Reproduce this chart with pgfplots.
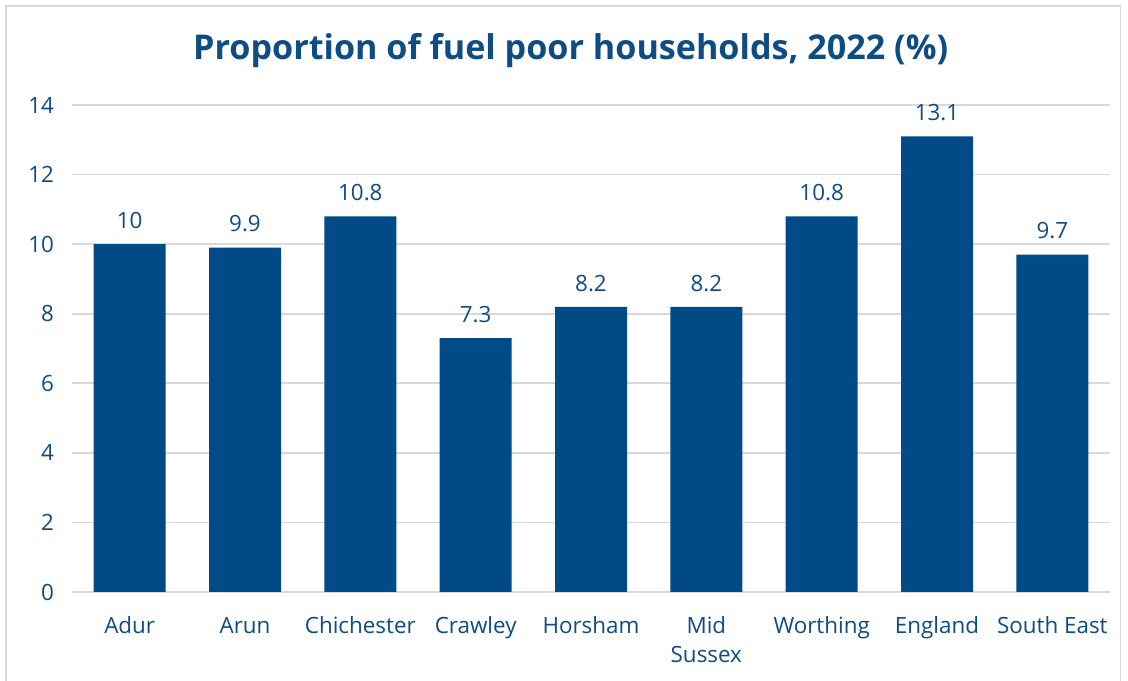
\documentclass[border=0pt]{standalone}
\usepackage{fontspec}
\setmainfont{Open Sans}
\usepackage{pgfplots}
\pgfplotsset{compat=1.18}
\definecolor{barblue}{HTML}{004A87}
\definecolor{txtblue}{HTML}{0E4C84}
\definecolor{gridgray}{HTML}{D9D9D9}
\begin{document}
\begin{tikzpicture}[x=1pt,y=1pt]
\useasboundingbox (0,0) rectangle (846,510.75);
\draw[gridgray, line width=1.2pt] (4.5,-5) -- (4.5,506.25) -- (840.5,506.25) -- (840.5,-5);
\node[txtblue, font=\fontsize{25.6}{30}\selectfont\bfseries] at (428,473) {Proportion of fuel poor households, 2022 (\%)};
\begin{axis}[
  at={(54pt,66.75pt)}, anchor=south west,
  scale only axis, width=778.5pt, height=365.25pt,
  xmin=-0.5, xmax=8.5, ymin=0, ymax=14,
  ytick={0,2,...,14},
  xtick=data,
  xticklabels={\strut Adur,\strut Arun,\strut Chichester,\strut Crawley,\strut Horsham,{\strut Mid\\\strut Sussex},\strut Worthing,\strut England,\strut South East},
  x tick label style={align=center, text=txtblue, font=\fontsize{16.8}{22}\selectfont, yshift=-12pt},
  y tick label style={text=txtblue, font=\fontsize{16.8}{18.5}\selectfont, xshift=-10pt},
  /pgf/number format/assume math mode=true,
  major tick length=0pt,
  axis line style={draw=none},
  ymajorgrids, grid style={gridgray, line width=1.2pt},
  ybar, bar width=54pt,
  nodes near coords,
  nodes near coords style={text=txtblue, font=\fontsize{16.8}{18.5}\selectfont, yshift=8pt},
  clip=false,
]
\addplot[fill=barblue, draw=none] coordinates {(0,10) (1,9.9) (2,10.8) (3,7.3) (4,8.2) (5,8.2) (6,10.8) (7,13.1) (8,9.7)};
\end{axis}
\end{tikzpicture}
\end{document}
